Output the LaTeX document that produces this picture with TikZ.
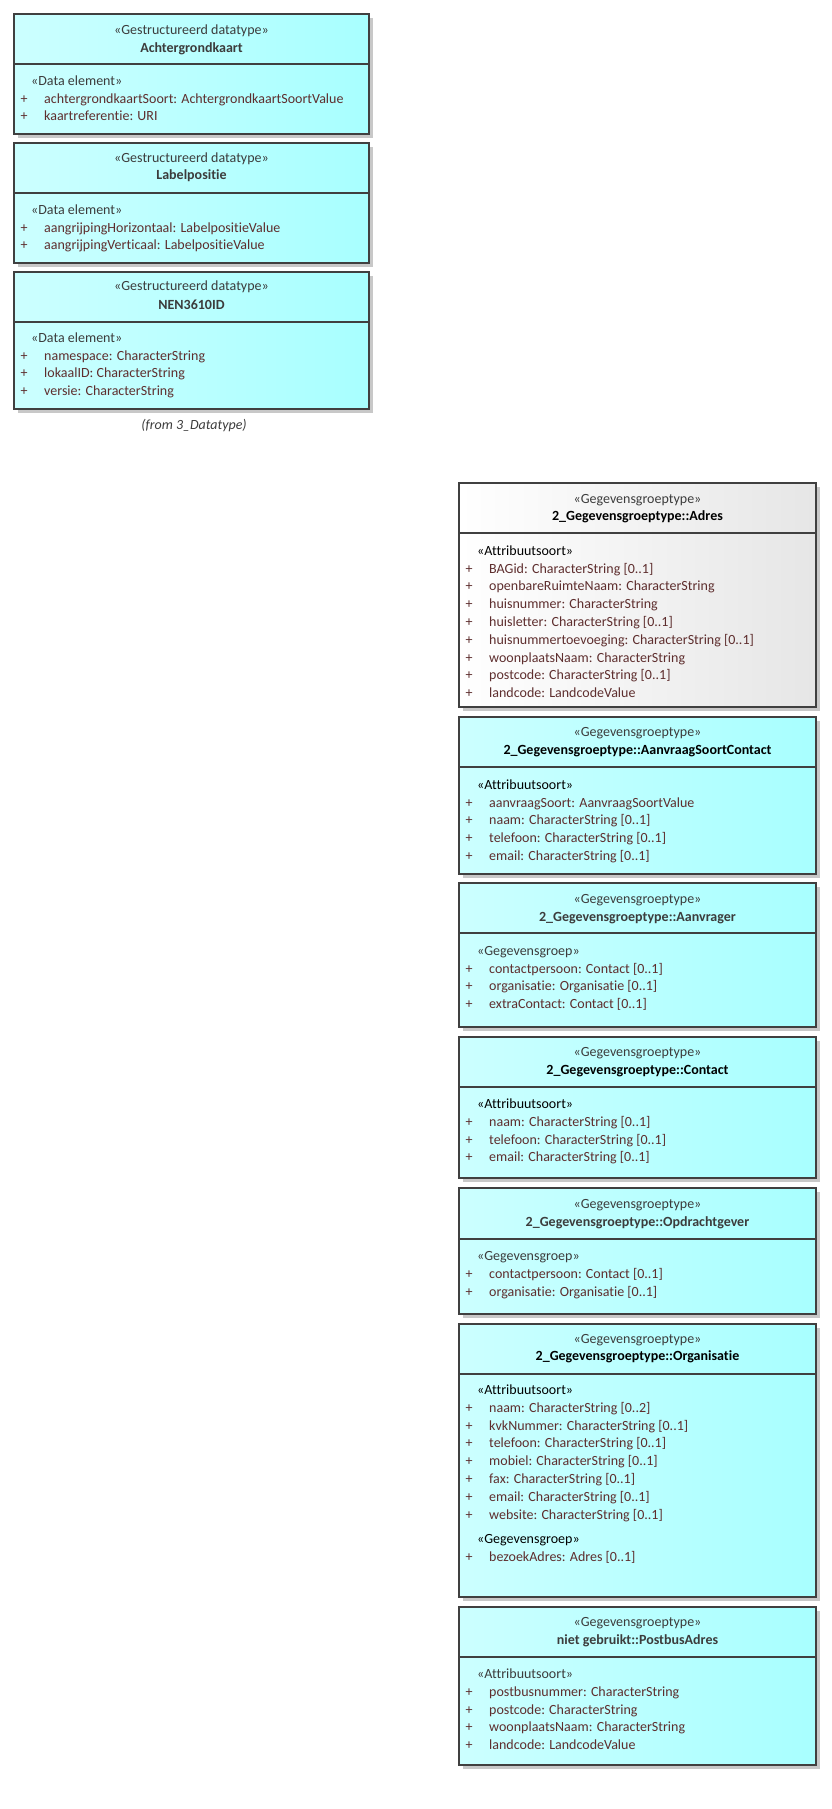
\documentclass[tikz,border=0pt]{standalone}
\usepackage{fontspec}
\setmainfont{Carlito}[Ligatures={NoCommon}]

\definecolor{cyanL}{HTML}{CCFFFF}
\definecolor{cyanR}{HTML}{A8FFFF}
\definecolor{greyL}{HTML}{FFFFFF}
\definecolor{greyR}{HTML}{E6E6E6}
\definecolor{frameGrey}{HTML}{404040}
\definecolor{shadowGrey}{HTML}{C8C8C8}
\definecolor{attrRed}{HTML}{5E2E2E}
\definecolor{stereoGrey}{HTML}{3C3C3C}

\tikzset{
  txt/.style={inner sep=0pt, font=\fontsize{14}{16}\selectfont},
  stereo/.style={txt, text=stereoGrey},
  classname/.style={txt, font=\bfseries\fontsize{14}{16}\selectfont},
  section/.style={txt, anchor=mid west},
  attr/.style={txt, anchor=mid west, text=attrRed},
  plus/.style={txt, anchor=mid, text=attrRed}
}

% left, top, divider, right, bottom, left colour, right colour
\newcommand\umlbox[7]{%
  \fill[shadowGrey] (#1+4,#2+4) rectangle (#4+4,#5+4);
  \shadedraw[left color=#6, right color=#7, draw=frameGrey, line width=1.1pt] (#1,#2) rectangle (#4,#5);
  \draw[frameGrey, line width=1.1pt] (#1,#3) -- (#4,#3);
}

\begin{document}
\begin{tikzpicture}[x=1pt, y=-1pt]
  \useasboundingbox (0,0) rectangle (832,1809);
  \def\rowh{17.8}

  % left column: datatypes
  \umlbox{14}{14}{64}{369}{134}{cyanL}{cyanR}
  \node[stereo] (achter-st) at (191.5,31) {«Gestructureerd datatype»};
  \node[classname, text=stereoGrey] (achter) at (191.5,49) {Achtergrondkaart};
  \node[section, text=stereoGrey] (achter-sec) at (31,83) {«Data element»};
  \foreach \t [count=\i from 1] in {{achtergrondkaartSoort: AchtergrondkaartSoortValue},{kaartreferentie: URI}} {
    \node[plus] (achter-p\i) at (24,83+\i*\rowh) {+};
    \node[attr] (achter-a\i) at (44,83+\i*\rowh) {\t};
  }

  \umlbox{14}{143}{193}{369}{263}{cyanL}{cyanR}
  \node[stereo] (label-st) at (191.5,159) {«Gestructureerd datatype»};
  \node[classname, text=stereoGrey] (label) at (191.5,176) {Labelpositie};
  \node[section, text=stereoGrey] (label-sec) at (31,212) {«Data element»};
  \foreach \t [count=\i from 1] in {{aangrijpingHorizontaal: LabelpositieValue},{aangrijpingVerticaal: LabelpositieValue}} {
    \node[plus] (label-p\i) at (24,212+\i*\rowh) {+};
    \node[attr] (label-a\i) at (44,212+\i*\rowh) {\t};
  }

  \umlbox{14}{272}{322}{369}{409}{cyanL}{cyanR}
  \node[stereo] (nen-st) at (191.5,287) {«Gestructureerd datatype»};
  \node[classname, text=stereoGrey] (nen) at (191.5,305) {NEN3610ID};
  \node[section, text=stereoGrey] (nen-sec) at (31,340) {«Data element»};
  \foreach \t [count=\i from 1] in {{namespace: CharacterString},{lokaalID: CharacterString},{versie: CharacterString}} {
    \node[plus] (nen-p\i) at (24,340+\i*\rowh) {+};
    \node[attr] (nen-a\i) at (44,340+\i*\rowh) {\t};
  }
  \node[stereo, font=\itshape\fontsize{14}{16}\selectfont] (from) at (194,426) {(from 3\_Datatype)};

  % right column: gegevensgroeptypen
  \umlbox{459}{483}{533}{816}{707}{greyL}{greyR}
  \node[stereo] (adres-st) at (637.5,500) {«Gegevensgroeptype»};
  \node[classname] (adres) at (637.5,517) {2\_Gegevensgroeptype::Adres};
  \node[section] (adres-sec) at (477,553) {«Attribuutsoort»};
  \foreach \t [count=\i from 1] in {{BAGid: CharacterString [0..1]},{openbareRuimteNaam: CharacterString},{huisnummer: CharacterString},{huisletter: CharacterString [0..1]},{huisnummertoevoeging: CharacterString [0..1]},{woonplaatsNaam: CharacterString},{postcode: CharacterString [0..1]},{landcode: LandcodeValue}} {
    \node[plus] (adres-p\i) at (469,553+\i*\rowh) {+};
    \node[attr] (adres-a\i) at (489,553+\i*\rowh) {\t};
  }

  \umlbox{459}{717}{767}{816}{874}{cyanL}{cyanR}
  \node[stereo] (soort-st) at (637.5,733) {«Gegevensgroeptype»};
  \node[classname] (soort) at (637.5,751) {2\_Gegevensgroeptype::AanvraagSoortContact};
  \node[section] (soort-sec) at (477,787) {«Attribuutsoort»};
  \foreach \t [count=\i from 1] in {{aanvraagSoort: AanvraagSoortValue},{naam: CharacterString [0..1]},{telefoon: CharacterString [0..1]},{email: CharacterString [0..1]}} {
    \node[plus] (soort-p\i) at (469,787+\i*\rowh) {+};
    \node[attr] (soort-a\i) at (489,787+\i*\rowh) {\t};
  }

  \umlbox{459}{883}{933}{816}{1027}{cyanL}{cyanR}
  \node[stereo] (aanvr-st) at (637.5,900) {«Gegevensgroeptype»};
  \node[classname, text=stereoGrey] (aanvr) at (637.5,918) {2\_Gegevensgroeptype::Aanvrager};
  \node[section, text=stereoGrey] (aanvr-sec) at (477,953) {«Gegevensgroep»};
  \foreach \t [count=\i from 1] in {{contactpersoon: Contact [0..1]},{organisatie: Organisatie [0..1]},{extraContact: Contact [0..1]}} {
    \node[plus] (aanvr-p\i) at (469,953+\i*\rowh) {+};
    \node[attr] (aanvr-a\i) at (489,953+\i*\rowh) {\t};
  }

  \umlbox{459}{1037}{1087}{816}{1178}{cyanL}{cyanR}
  \node[stereo] (contact-st) at (637.5,1053) {«Gegevensgroeptype»};
  \node[classname] (contact) at (637.5,1071) {2\_Gegevensgroeptype::Contact};
  \node[section] (contact-sec) at (477,1106) {«Attribuutsoort»};
  \foreach \t [count=\i from 1] in {{naam: CharacterString [0..1]},{telefoon: CharacterString [0..1]},{email: CharacterString [0..1]}} {
    \node[plus] (contact-p\i) at (469,1106+\i*\rowh) {+};
    \node[attr] (contact-a\i) at (489,1106+\i*\rowh) {\t};
  }

  \umlbox{459}{1188}{1239}{816}{1314}{cyanL}{cyanR}
  \node[stereo] (opdr-st) at (637.5,1205) {«Gegevensgroeptype»};
  \node[classname, text=stereoGrey] (opdr) at (637.5,1223) {2\_Gegevensgroeptype::Opdrachtgever};
  \node[section, text=stereoGrey] (opdr-sec) at (477,1258) {«Gegevensgroep»};
  \foreach \t [count=\i from 1] in {{contactpersoon: Contact [0..1]},{organisatie: Organisatie [0..1]}} {
    \node[plus] (opdr-p\i) at (469,1258+\i*\rowh) {+};
    \node[attr] (opdr-a\i) at (489,1258+\i*\rowh) {\t};
  }

  \umlbox{459}{1324}{1374}{816}{1597}{cyanL}{cyanR}
  \node[stereo] (org-st) at (637.5,1340) {«Gegevensgroeptype»};
  \node[classname] (org) at (637.5,1357) {2\_Gegevensgroeptype::Organisatie};
  \node[section] (org-sec) at (477,1392) {«Attribuutsoort»};
  \foreach \t [count=\i from 1] in {{naam: CharacterString [0..2]},{kvkNummer: CharacterString [0..1]},{telefoon: CharacterString [0..1]},{mobiel: CharacterString [0..1]},{fax: CharacterString [0..1]},{email: CharacterString [0..1]},{website: CharacterString [0..1]}} {
    \node[plus] (org-p\i) at (469,1392+\i*\rowh) {+};
    \node[attr] (org-a\i) at (489,1392+\i*\rowh) {\t};
  }
  \node[section] (org-sec2) at (477,1541) {«Gegevensgroep»};
  \node[plus] (org-p8) at (469,1559) {+};
  \node[attr] (org-a8) at (489,1559) {bezoekAdres: Adres [0..1]};

  \umlbox{459}{1607}{1657}{816}{1765}{cyanL}{cyanR}
  \node[stereo] (postbus-st) at (637.5,1623) {«Gegevensgroeptype»};
  \node[classname, text=stereoGrey] (postbus) at (637.5,1641) {niet gebruikt::PostbusAdres};
  \node[section, text=stereoGrey] (postbus-sec) at (477,1676) {«Attribuutsoort»};
  \foreach \t [count=\i from 1] in {{postbusnummer: CharacterString},{postcode: CharacterString},{woonplaatsNaam: CharacterString},{landcode: LandcodeValue}} {
    \node[plus] (postbus-p\i) at (469,1676+\i*\rowh) {+};
    \node[attr] (postbus-a\i) at (489,1676+\i*\rowh) {\t};
  }
\end{tikzpicture}
\end{document}
